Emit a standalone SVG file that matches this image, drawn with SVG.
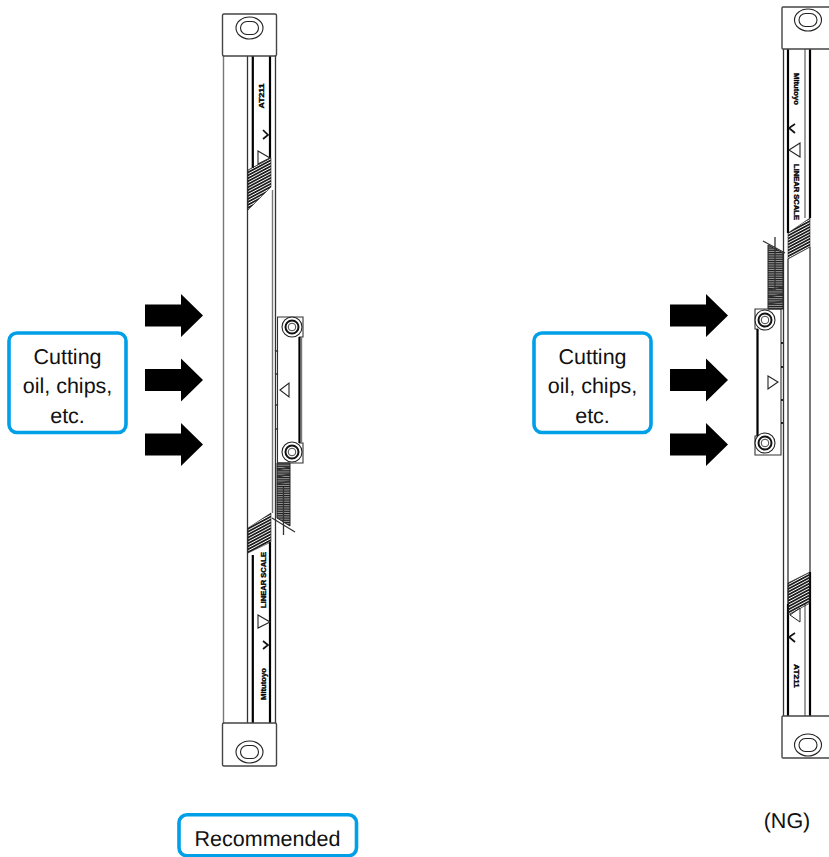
<svg xmlns="http://www.w3.org/2000/svg" width="829" height="857" viewBox="0 0 829 857">
<style>
.t{font-family:"Liberation Sans",Arial,sans-serif;font-size:21.5px;fill:#111;text-anchor:middle;text-rendering:geometricPrecision}
.m{font-family:"Liberation Sans",Arial,sans-serif;font-weight:bold;fill:#000;stroke:#000;stroke-width:.35;text-anchor:middle;font-size:8px}
.box{fill:#fff;stroke:#00a0e9;stroke-width:3.6}
.l{fill:none;stroke:#333;stroke-width:1.300}
.g{fill:none;stroke:#777;stroke-width:1.400}
.k{fill:none;stroke:#000;stroke-width:2.200}
.cap{fill:#fff;stroke:#444;stroke-width:1.400}
.o{fill:#fff;stroke:#222;stroke-width:1.100}
.c{fill:none;stroke:#111;stroke-width:1.700}
</style>
<defs>
<pattern id="h1" width="8" height="2.6" patternUnits="userSpaceOnUse" patternTransform="rotate(-28)"><rect width="8" height="1.7" fill="#1a1a1a"/></pattern>
<pattern id="h2" width="6" height="1.8" patternUnits="userSpaceOnUse"><rect width="6" height="1.800" fill="#fff"/><rect width="6" height="1.300" fill="#1a1a1a"/></pattern>
<path id="arr" d="M0-11H36V-21.500L58 0 36 21.500V11H0Z" fill="#000"/>
<g id="ring"><ellipse rx="13.500" ry="11" class="o"/><rect x="-9" y="-6.500" width="18" height="13" rx="6.500" class="o"/></g>
<g id="bolt"><circle r="10" class="o"/><circle r="6.500" fill="#fff" stroke="#111" stroke-width="2"/><circle r="3.800" fill="#fff" stroke="#444" stroke-width="1"/></g>
</defs>
<rect width="829" height="857" fill="#fff"/>

<g id="left-scale">
<path class="g" d="M223.500 56V724"/>
<path class="l" d="M247.500 56V724M275.500 56V724"/>
<path class="k" d="M252.800 56V168M252.800 555V723"/>
<path class="k" d="M270 56V158M270 542V723" stroke-width="1.800"/>
<path class="g" d="M272.500 190V513"/>
<polygon points="248,170 271,158 271,187 248,210" fill="url(#h1)" stroke="#222" stroke-width=".6"/>
<polygon points="248,528 271,513 271,542 248,553" fill="url(#h1)" stroke="#222" stroke-width=".6"/>
<rect class="cap" x="222.500" y="14" width="54" height="42" rx="1.500"/>
<rect class="cap" x="222.500" y="723" width="54" height="43" rx="1.500"/>
<use href="#ring" x="249.500" y="28"/>
<use href="#ring" x="249.500" y="752"/>
<text class="m" transform="translate(264 96) rotate(-90)" textLength="25" lengthAdjust="spacingAndGlyphs">AT211</text>
<polyline class="c" points="263,130 268,135 263,139"/>
<polygon class="o" points="258,151 258,164 270,158"/>
<polygon class="o" points="258,615 258,628 270,622"/>
<polyline class="c" points="263,641 268,645 263,649"/>
<text class="m" transform="translate(265.500 580) rotate(-90)" style="font-size:7px" textLength="56" lengthAdjust="spacingAndGlyphs">LINEAR SCALE</text>
<text class="m" transform="translate(265.500 684) rotate(-90)" textLength="32" lengthAdjust="spacingAndGlyphs">Mitutoyo</text>
</g>

<g id="left-slider">
<path d="M277.500 317H303V337H299.500V443H303V463H277.500Z" fill="#fff" stroke="#333" stroke-width="1.100"/>
<path class="k" d="M299.500 337V443"/>
<path class="g" d="M301.500 337V443"/>
<path d="M275 350l3 2M275 373l3 2M275 406l3-2M275 430l3-2" class="l"/>
<polygon class="o" points="280,390 289,383 289,397"/>
<use href="#bolt" x="292" y="327"/>
<use href="#bolt" x="292" y="452"/>
<polygon points="277,463 290,463 290,526 277,518" fill="url(#h2)" stroke="#222" stroke-width="1"/>
<path class="l" d="M277 470l13-3M277 477l13-3M277 484l13-3M283.500 487V535M272 518L295 532"/>
</g>

<g id="right-scale">
<path class="l" d="M783.500 49V716M788 259V716M810 247V716"/>
<path class="k" d="M788 49V233M788 604V716"/>
<path class="k" d="M810 49V218M810 572V716" stroke-width="1.800"/>
<path class="g" d="M805 49V218M805 604V716"/>
<polygon points="788,233 810,218 810,247 788,259" fill="url(#h1)" stroke="#222" stroke-width=".6"/>
<polygon points="788,583 810,572 810,603 788,615" fill="url(#h1)" stroke="#222" stroke-width=".6"/>
<path class="cap" d="M830 7H783Q782 7 782 8V48Q782 49 783 49H830"/>
<path class="cap" d="M830 716H783Q782 716 782 717V757Q782 758 783 758H830"/>
<use href="#ring" x="808" y="20"/>
<use href="#ring" x="808" y="745"/>
<text class="m" transform="translate(794 89) rotate(90)" textLength="32" lengthAdjust="spacingAndGlyphs">Mitutoyo</text>
<polyline class="c" points="795,124 789,128 795,133"/>
<polygon class="o" points="789,150 800,143 800,157"/>
<text class="m" transform="translate(794 192) rotate(90)" style="font-size:7px" textLength="56" lengthAdjust="spacingAndGlyphs">LINEAR SCALE</text>
<polygon fill="none" stroke="#222" points="790,615 800,608 800,622"/>
<polyline class="c" points="795,633 789,637 795,642"/>
<text class="m" transform="translate(794 676) rotate(90)" textLength="24" lengthAdjust="spacingAndGlyphs">AT211</text>
</g>

<g id="right-slider">
<path d="M781 309H755V329H757.500V436H755V455H781Z" fill="#fff" stroke="#333" stroke-width="1.100"/>
<path class="k" d="M757.500 329V436"/>
<path d="M782 342v2M782 366v2M782 399v2M782 422v2" stroke="#000" stroke-width="1.600"/>
<polygon class="o" points="768,376 768,389 778,382"/>
<use href="#bolt" x="765" y="320"/>
<use href="#bolt" x="765" y="443"/>
<polygon points="768,245 783,253 783,309 768,309" fill="url(#h2)" stroke="#222" stroke-width="1"/>
<path class="l" d="M768 290l15-3M768 297l15-3M768 304l15-3M775 237V290M763 241L785 253"/>
</g>

<g id="arrows">
<use href="#arr" x="145" y="315.500"/>
<use href="#arr" x="145" y="380"/>
<use href="#arr" x="145" y="444.500"/>
<use href="#arr" x="670" y="315.500"/>
<use href="#arr" x="670" y="380"/>
<use href="#arr" x="670" y="444.500"/>
</g>

<g id="label-left">
<rect class="box" x="9" y="333" width="117" height="99.500" rx="8"/>
<text class="t" x="67.500" y="364">Cutting</text>
<text class="t" x="67.500" y="393">oil, chips,</text>
<text class="t" x="67.500" y="422.500">etc.</text>
</g>
<g id="label-right">
<rect class="box" x="534" y="333" width="117" height="99.500" rx="8"/>
<text class="t" x="592.500" y="364">Cutting</text>
<text class="t" x="592.500" y="393">oil, chips,</text>
<text class="t" x="592.500" y="422.500">etc.</text>
</g>
<g id="label-recommended">
<rect class="box" x="179" y="814.800" width="177.500" height="41" rx="8"/>
<text class="t" x="267.500" y="845.500">Recommended</text>
</g>
<g id="label-ng">
<text class="t" x="787" y="827.500">(NG)</text>
</g>
</svg>
